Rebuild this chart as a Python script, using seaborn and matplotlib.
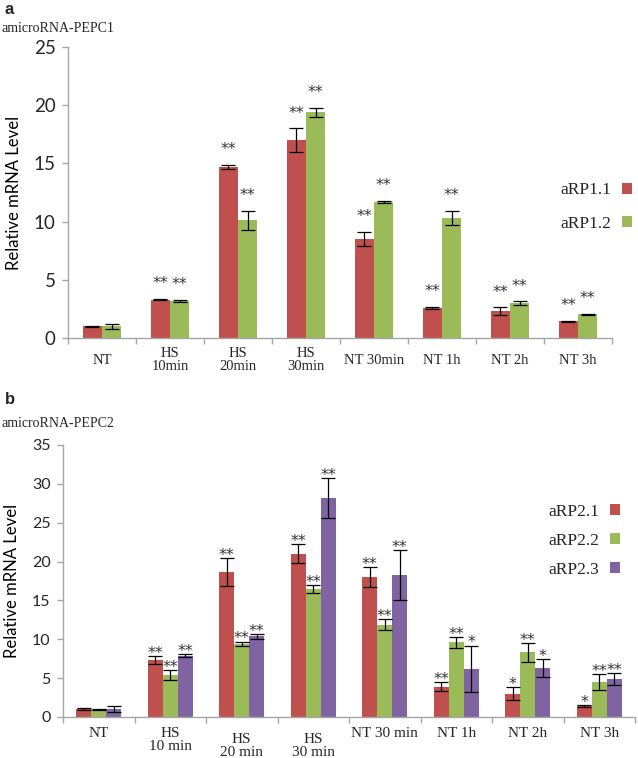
import numpy as np
import pandas as pd
import matplotlib
matplotlib.use("Agg")
import matplotlib.pyplot as plt
import matplotlib.transforms as mtransforms
import seaborn as sns

# ---------------- data ----------------
cond_a = ["NT", "HS\n10min", "HS\n20min", "HS\n30min", "NT 30min", "NT 1h", "NT 2h", "NT 3h"]
series_a = ["aRP1.1", "aRP1.2"]
vals_a1 = [1.0, 3.3, 14.7, 17.0, 8.5, 2.6, 2.3, 1.45]
errs_a1 = [0.05, 0.05, 0.2, 1.0, 0.6, 0.1, 0.35, 0.05]
vals_a2 = [1.0, 3.2, 10.1, 19.4, 11.7, 10.3, 3.0, 2.05]
errs_a2 = [0.2, 0.1, 0.8, 0.4, 0.1, 0.6, 0.15, 0.05]
stars_a1 = ["", "**", "**", "**", "**", "**", "**", "**"]
stars_a2 = ["", "**", "**", "**", "**", "**", "**", "**"]

cond_b = ["NT", "HS\n10 min", "HS\n20 min", "HS\n30 min", "NT 30 min", "NT 1h", "NT 2h", "NT 3h"]
series_b = ["aRP2.1", "aRP2.2", "aRP2.3"]
vals_b1 = [1.0, 7.3, 18.7, 21.0, 18.0, 3.9, 3.0, 1.4]
errs_b1 = [0.15, 0.5, 1.8, 1.2, 1.3, 0.6, 0.8, 0.15]
vals_b2 = [1.0, 5.4, 9.4, 16.5, 11.9, 9.6, 8.3, 4.5]
errs_b2 = [0.05, 0.6, 0.3, 0.5, 0.7, 0.7, 1.2, 1.0]
vals_b3 = [1.0, 7.9, 10.4, 28.2, 18.3, 6.2, 6.3, 4.9]
errs_b3 = [0.4, 0.15, 0.3, 2.6, 3.2, 3.0, 1.1, 0.8]
stars_b1 = ["", "**", "**", "**", "**", "**", "*", "*"]
stars_b2 = ["", "**", "**", "**", "**", "**", "**", "**"]
stars_b3 = ["", "**", "**", "**", "**", "*", "*", "**"]

colors = ["#C0504D", "#9BBB59", "#8064A2"]

sns.set_theme(style="white")
plt.rcParams["font.family"] = ["DejaVu Sans"]

SERIF = "Liberation Serif"
SANS = "Lato"
GRAY = "#A6A6A6"

fig = plt.figure(figsize=(6.38, 7.58), dpi=100)
ax_a = fig.add_axes([68 / 638, 1 - 338 / 758, 544 / 638, 291 / 758])
ax_b = fig.add_axes([63 / 638, 1 - 717 / 758, 572 / 638, 272 / 758])


def draw(ax, conds, series, vals, errs, stars, width, ymax, ystep, tick_fs, ylabel_x, capsize, star_off):
    rows = []
    for s, v in zip(series, vals):
        for c, val in zip(conds, v):
            rows.append({"cond": c, "series": s, "val": val})
    df = pd.DataFrame(rows)
    sns.barplot(data=df, x="cond", y="val", hue="series", order=conds, hue_order=series,
                palette=colors[:len(series)], errorbar=None, width=width, saturation=1,
                linewidth=0, ax=ax, legend=True)
    for cont, e, st in zip(ax.containers, errs, stars):
        xs = [p.get_x() + p.get_width() / 2 for p in cont.patches]
        hs = [p.get_height() for p in cont.patches]
        ax.errorbar(xs, hs, yerr=e, fmt="none", ecolor="black", elinewidth=0.9,
                    capsize=capsize, capthick=0.9, zorder=5)
        for x, h, ee, s in zip(xs, hs, e, st):
            if s:
                ax.annotate(s, (x, h + ee), xytext=(0, star_off), textcoords="offset points",
                            ha="center", va="bottom", fontsize=11.5, color="#333333", zorder=6)
    ax.set_xlim(-0.5, len(conds) - 0.5)
    ax.set_ylim(0, ymax)
    ax.set_yticks(np.arange(0, ymax + 0.1, ystep))
    ax.set_xticks(np.arange(-0.5, len(conds), 1), minor=True)
    ax.set_xlabel("")
    ax.set_ylabel("Relative mRNA Level", fontsize=12, family=SANS, color="black")
    ax.yaxis.set_label_coords(ylabel_x, 0.5)
    for sp in ["top", "right"]:
        ax.spines[sp].set_visible(False)
    for sp in ["left", "bottom"]:
        ax.spines[sp].set_color(GRAY)
        ax.spines[sp].set_linewidth(1.0)
    ax.tick_params(axis="y", which="major", left=True, length=4, color=GRAY, width=1,
                   labelsize=tick_fs, pad=5)
    for lab in ax.get_yticklabels():
        lab.set_family(SANS)
    ax.tick_params(axis="x", which="minor", bottom=True, length=4, color=GRAY, width=1)
    ax.tick_params(axis="x", which="major", bottom=False, length=0, labelsize=10.5)
    ax.grid(False)


draw(ax_a, cond_a, series_a, [vals_a1, vals_a2], [errs_a1, errs_a2], [stars_a1, stars_a2],
     0.56, 25, 5, 13.5, (22 - 68) / 544, 5, 5.5)
draw(ax_b, cond_b, series_b, [vals_b1, vals_b2, vals_b3], [errs_b1, errs_b2, errs_b3],
     [stars_b1, stars_b2, stars_b3], 0.63, 35, 5, 11.5, (20 - 63) / 572, 5, -3.5)

# x tick labels
ax_a.set_xticks(range(len(cond_a)))
ax_a.set_xticklabels(cond_a, family=SERIF, fontsize=10.5, linespacing=1.05)
ax_a.tick_params(axis="x", which="major", pad=16)
for lab in ax_a.get_xticklabels():
    lab.set_verticalalignment("center")

ax_b.set_xticks(range(len(cond_b)))
ax_b.set_xticklabels(cond_b, family=SERIF, fontsize=11, linespacing=1.0)
ax_b.tick_params(axis="x", which="major", pad=7)
for i, lab in enumerate(ax_b.get_xticklabels()):
    if i in (2, 3):
        lab.set_transform(lab.get_transform() +
                          mtransforms.ScaledTranslation(0, -6 / 100, fig.dpi_scale_trans))

# legends
for ax, yc, xr, sp in [(ax_a, 1 - 207 / 758, 632 / 638, 1.0), (ax_b, 1 - 541 / 758, 620 / 638, 0.75)]:
    h, l = ax.get_legend_handles_labels()
    ax.legend(h, l, loc="center right", bbox_to_anchor=(xr, yc), bbox_transform=fig.transFigure,
              frameon=False, markerfirst=False, handlelength=0.6, handleheight=0.6,
              handletextpad=0.6, labelspacing=sp, borderpad=0, borderaxespad=0,
              prop={"family": SERIF, "size": 12.5})

# panel letters and titles
fig.text(5 / 638, 1 - 10 / 758, "a", fontsize=12, fontweight="bold", family="Liberation Sans",
         va="center", ha="left")
fig.text(2 / 638, 1 - 29 / 758, "amicroRNA-PEPC1", fontsize=10, family=SERIF, va="center", ha="left")
fig.text(5 / 638, 1 - 400 / 758, "b", fontsize=12, fontweight="bold", family="Liberation Sans",
         va="center", ha="left")
fig.text(2 / 638, 1 - 423 / 758, "amicroRNA-PEPC2", fontsize=10, family=SERIF, va="center", ha="left")

fig.savefig("out.png", dpi=100)
